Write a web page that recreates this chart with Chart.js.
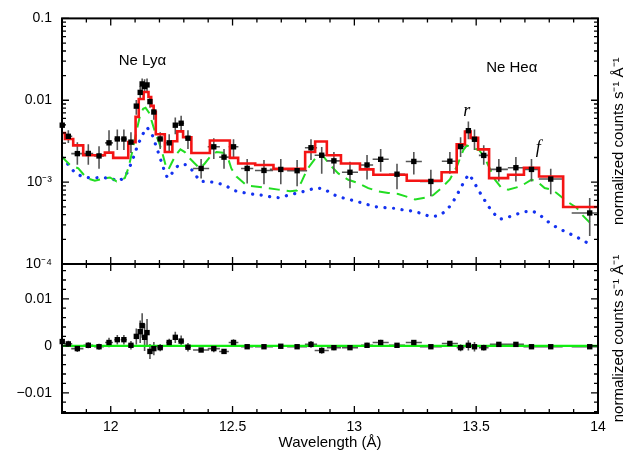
<!DOCTYPE html>
<html>
<head>
<meta charset="utf-8">
<script src="https://cdn.jsdelivr.net/npm/chart.js@4.4.1/dist/chart.umd.min.js"></script>
<style>
  html, body { margin: 0; padding: 0; background: #fff; }
  #wrap { position: relative; width: 641px; height: 455px; }
  #wrap canvas { position: absolute; left: 0; top: 0; }
</style>
</head>
<body>
<div id="wrap">
  <canvas id="specChart" width="641" height="455"></canvas>
  <canvas id="resChart" width="641" height="455"></canvas>
</div>
<script>
// measured spectrum (wavelength in Angstrom, normalized counts s^-1 A^-1)
const dataX = [11.801, 11.826, 11.863, 11.908, 11.952, 11.993, 12.027, 12.054, 12.083, 12.105,
  12.121, 12.129, 12.139, 12.149, 12.161, 12.177, 12.203, 12.240, 12.265, 12.289,
  12.317, 12.371, 12.423, 12.465, 12.504, 12.560, 12.629, 12.698, 12.765, 12.822,
  12.866, 12.916, 12.982, 13.052, 13.108, 13.175, 13.244, 13.314, 13.392, 13.436,
  13.468, 13.493, 13.531, 13.593, 13.663, 13.727, 13.806, 13.966];
const dataY = [0.00496, 0.00363, 0.00223, 0.00224, 0.00209, 0.00302, 0.00337, 0.00336, 0.00308, 0.00848,
  0.01248, 0.01583, 0.01474, 0.01540, 0.00963, 0.00719, 0.00337, 0.00302, 0.00496, 0.00524,
  0.00344, 0.00147, 0.00270, 0.00202, 0.00270, 0.00147, 0.00139, 0.00143, 0.00138, 0.00263,
  0.00213, 0.00182, 0.00132, 0.00162, 0.00190, 0.00125, 0.00179, 0.00102, 0.00180, 0.00272,
  0.00425, 0.00334, 0.00212, 0.00143, 0.00150, 0.00143, 0.00109, 0.00042];
const dataLo = [0.0044, 0.0030, 0.00163, 0.00163, 0.00146, 0.00221, 0.00247, 0.00247, 0.00227, 0.00667,
  0.0101, 0.0133, 0.01225, 0.0127, 0.0081, 0.0058, 0.00254, 0.00227, 0.00384, 0.00406,
  0.00254, 0.00111, 0.00192, 0.00146, 0.00192, 0.00096, 0.00094, 0.00094, 0.00089, 0.00187,
  0.00127, 0.00127, 0.00084, 0.00108, 0.00134, 0.00082, 0.00124, 0.00067, 0.00127, 0.00203,
  0.00334, 0.00247, 0.00163, 0.00102, 0.00102, 0.00102, 0.00071, 0.00022];
const dataHi = [0.0056, 0.0043, 0.00308, 0.00291, 0.00275, 0.00429, 0.0044, 0.0044, 0.00406, 0.0101,
  0.0149, 0.0185, 0.0180, 0.0185, 0.0113, 0.0086, 0.00406, 0.00384, 0.00614, 0.00649,
  0.00429, 0.00192, 0.00344, 0.00254, 0.00334, 0.00192, 0.00187, 0.00192, 0.00187, 0.00334,
  0.00268, 0.00233, 0.00177, 0.00215, 0.00254, 0.00168, 0.00233, 0.00142, 0.00233, 0.00353,
  0.0055, 0.0044, 0.00283, 0.00192, 0.00203, 0.00192, 0.00146, 0.00064];
// half bin width
const dataXErr = [0.008, 0.016, 0.025, 0.02, 0.02, 0.016, 0.012, 0.012, 0.012, 0.006,
  0.006, 0.006, 0.006, 0.006, 0.006, 0.006, 0.012, 0.012, 0.008, 0.012,
  0.012, 0.033, 0.025, 0.02, 0.02, 0.025, 0.037, 0.045, 0.041, 0.025,
  0.029, 0.029, 0.033, 0.025, 0.033, 0.033, 0.033, 0.045, 0.033, 0.016,
  0.012, 0.012, 0.02, 0.037, 0.033, 0.033, 0.049, 0.074];

// residuals (data - model)
const resY = [0.0009, 0.0004, -0.0006, 0.0001, -0.0002, 0.0007, 0.0013, 0.0013, 0.0001, 0.0020,
  0.0030, 0.0043, 0.0018, 0.0028, -0.0012, -0.0006, -0.0004, 0.0007, 0.0018, 0.0010,
  -0.0003, -0.0009, -0.0006, -0.0012, 0.0007, -0.0002, -0.0002, -0.0001, -0.0002, 0.0003,
  -0.0010, -0.0004, -0.0004, 0.0001, 0.0007, 0.0001, 0.0007, -0.0002, 0.0005, -0.0004,
  0.0001, -0.0002, -0.0004, 0.0003, 0.0003, -0.0002, -0.0002, -0.0002];
const resErr = [0.0006, 0.00065, 0.0007, 0.00064, 0.00065, 0.001, 0.001, 0.001, 0.0009, 0.0017,
  0.0024, 0.0026, 0.0029, 0.0029, 0.0016, 0.0014, 0.00076, 0.0008, 0.0012, 0.0012,
  0.0009, 0.0004, 0.00076, 0.00054, 0.0007, 0.0005, 0.00047, 0.0005, 0.0005, 0.00074,
  0.0007, 0.00053, 0.00047, 0.00054, 0.0006, 0.00043, 0.00055, 0.00038, 0.00053, 0.00075,
  0.0011, 0.001, 0.0006, 0.00045, 0.0005, 0.00045, 0.00038, 0.0002];

// folded model, histogram bins
const stepEdges = [11.800, 11.812, 11.846, 11.887, 11.976, 12.010, 12.072, 12.102, 12.115, 12.135,
  12.155, 12.166, 12.176, 12.185, 12.222, 12.253, 12.273, 12.297, 12.331, 12.407,
  12.489, 12.523, 12.593, 12.668, 12.798, 12.839, 12.887, 12.945, 13.023, 13.078,
  13.215, 13.358, 13.420, 13.454, 13.477, 13.508, 13.553, 13.631, 13.696, 13.758,
  13.857, 14.000];
const stepValues = [0.00398, 0.00337, 0.00281, 0.00213, 0.00229, 0.00198, 0.00308, 0.00626, 0.01038, 0.0126,
  0.01096, 0.00855, 0.00724, 0.00384, 0.00233, 0.00316, 0.00417, 0.00353, 0.00227, 0.00322,
  0.00198, 0.00169, 0.00162, 0.00145, 0.00233, 0.00314, 0.00213, 0.00169, 0.00143, 0.00123,
  0.00104, 0.00132, 0.00289, 0.00414, 0.00347, 0.00251, 0.00112, 0.00123, 0.0015, 0.00117,
  0.000497];

// model component (dashed)
const greenX = [11.800, 11.833, 11.867, 11.901, 11.935, 11.969, 11.997, 12.024, 12.058, 12.072,
  12.088, 12.106, 12.120, 12.133, 12.143, 12.157, 12.170, 12.184, 12.198, 12.211,
  12.225, 12.236, 12.249, 12.266, 12.286, 12.304, 12.325, 12.345, 12.366, 12.386,
  12.407, 12.434, 12.461, 12.482, 12.495, 12.516, 12.559, 12.593, 12.641, 12.688,
  12.736, 12.764, 12.784, 12.805, 12.839, 12.863, 12.880, 12.907, 12.934, 12.975,
  13.016, 13.057, 13.098, 13.139, 13.180, 13.221, 13.249, 13.290, 13.323, 13.358,
  13.392, 13.420, 13.447, 13.462, 13.488, 13.513, 13.536, 13.556, 13.577, 13.604,
  13.631, 13.666, 13.693, 13.727, 13.754, 13.781, 13.809, 13.830, 13.871, 13.912,
  13.939, 13.966];
const greenY = [0.00203, 0.00162, 0.00147, 0.00112, 0.00104, 0.00110, 0.00114, 0.00102, 0.00112, 0.00147,
  0.00233, 0.00425, 0.00643, 0.00787, 0.00809, 0.00705, 0.00535, 0.00387, 0.00308, 0.00233,
  0.00162, 0.00141, 0.00169, 0.00213, 0.00251, 0.00233, 0.00194, 0.00169, 0.00147, 0.00169,
  0.00203, 0.00233, 0.00229, 0.00194, 0.00147, 0.00117, 0.000905, 0.000887, 0.000846, 0.000810,
  0.000773, 0.000788, 0.00102, 0.00141, 0.00194, 0.00223, 0.00194, 0.00154, 0.00128, 0.00107,
  0.000972, 0.000846, 0.000773, 0.000738, 0.000717, 0.000655, 0.000614, 0.000646, 0.000692, 0.000851,
  0.00108, 0.00154, 0.00245, 0.00281, 0.00261, 0.00245, 0.00194, 0.00147, 0.00107, 0.000846,
  0.000810, 0.000863, 0.000930, 0.00107, 0.000999, 0.000846, 0.000810, 0.000738, 0.000586, 0.000487,
  0.000387, 0.000322];

// model component (dotted)
const blueX = [11.800, 11.827, 11.855, 11.889, 11.923, 11.957, 11.998, 12.032, 12.060, 12.087,
  12.108, 12.128, 12.149, 12.169, 12.190, 12.217, 12.233, 12.251, 12.278, 12.306,
  12.333, 12.367, 12.401, 12.442, 12.477, 12.511, 12.552, 12.593, 12.634, 12.662,
  12.695, 12.736, 12.770, 12.804, 12.843, 12.876, 12.907, 12.941, 12.979, 13.016,
  13.051, 13.087, 13.126, 13.164, 13.201, 13.235, 13.276, 13.310, 13.344, 13.372,
  13.399, 13.422, 13.440, 13.456, 13.471, 13.488, 13.508, 13.529, 13.549, 13.573,
  13.597, 13.627, 13.666, 13.700, 13.731, 13.761, 13.789, 13.830, 13.871, 13.905,
  13.939, 13.966];
const blueY = [0.00199, 0.00162, 0.00128, 0.00115, 0.00112, 0.00114, 0.00112, 0.00102, 0.00117, 0.00177,
  0.00268, 0.0037, 0.00466, 0.00387, 0.00256, 0.00147, 0.00112, 0.00128, 0.00162, 0.00164,
  0.00141, 0.00102, 0.00102, 0.000972, 0.000887, 0.000783, 0.000738, 0.000705, 0.000686, 0.000655,
  0.000642, 0.000705, 0.000738, 0.000788, 0.000851, 0.000828, 0.000717, 0.000655, 0.000614, 0.000575,
  0.000535, 0.000501, 0.000487, 0.000479, 0.000457, 0.000445, 0.000415, 0.00038, 0.000387, 0.000436,
  0.000535, 0.000705, 0.000887, 0.00109, 0.00125, 0.00104, 0.00081, 0.000642, 0.000511, 0.000413,
  0.000353, 0.000369, 0.000406, 0.000436, 0.000445, 0.000398, 0.000337, 0.00028, 0.000244, 0.000219,
  0.000194, 0.000174];

// residual model (zero line)
const zeroX = [11.8, 14.0];
const zeroY = [0, 0];

// axes
const xTickVals = [12, 12.5, 13, 13.5, 14];
const xTickLabels = ['12', '12.5', '13', '13.5', '14'];
const logTickVals = [1e-4, 1e-3, 0.01, 0.1];
const logTickLabels = ['10⁻⁴', '10⁻³', '0.01', '0.1'];
const resTickVals = [-0.01, 0, 0.01];
const resTickLabels = ['−0.01', '0', '0.01'];

// line labels
const noteText = ['Ne Lyα', 'Ne Heα', 'r', 'f'];
const noteX = [12.13, 13.646, 13.461, 13.755];
const noteY = [0.0307, 0.0249, 0.00739, 0.00256];

const FONT = "'Liberation Sans', Arial, Helvetica, sans-serif";
const yTitle = 'normalized counts s⁻¹ Å⁻¹';

// tick mark positions (minor + major) for the frame
const xMarks = [];
for (let k = 118; k <= 140; k++) {
  const v = k / 10;
  xMarks.push({ v, major: xTickVals.includes(v) });
}
const logMarks = [];
for (let e = -4; e <= -2; e++) {
  for (let m = 1; m <= 9; m++) logMarks.push({ v: m * Math.pow(10, e), major: m === 1 });
}
logMarks.push({ v: 0.1, major: true });
const resMarks = [];
for (let k = -7; k <= 8; k++) {
  resMarks.push({ v: k * 0.002, major: k % 5 === 0 });
}

function framePlugin(xm, ym, extra) {
  return {
    id: 'frame',
    afterDatasetsDraw(chart) {
      const { ctx, chartArea: a } = chart;
      const sx = chart.scales.x, sy = chart.scales.y;
      ctx.save();
      ctx.strokeStyle = '#000';
      ctx.lineWidth = 1.3;
      ctx.beginPath();
      xm.forEach(m => {
        const p = sx.getPixelForValue(m.v);
        const len = m.major ? 7 : 4;
        ctx.moveTo(p, a.top); ctx.lineTo(p, a.top + len);
        ctx.moveTo(p, a.bottom); ctx.lineTo(p, a.bottom - len);
      });
      ym.forEach(m => {
        const p = sy.getPixelForValue(m.v);
        if (p < a.top - 0.5 || p > a.bottom + 0.5) return;
        const len = m.major ? 7 : 4;
        ctx.moveTo(a.left, p); ctx.lineTo(a.left + len, p);
        ctx.moveTo(a.right, p); ctx.lineTo(a.right - len, p);
      });
      ctx.stroke();
      ctx.lineWidth = 2;
      ctx.strokeRect(a.left, a.top, a.right - a.left, a.bottom - a.top);

      // right side title, reading upwards
      ctx.fillStyle = '#000';
      ctx.font = '15px ' + FONT;
      ctx.textAlign = 'center';
      ctx.textBaseline = 'middle';
      ctx.translate(a.right + 21, (a.top + a.bottom) / 2);
      ctx.rotate(-Math.PI / 2);
      ctx.fillText(yTitle, 0, 0);
      ctx.restore();
      if (extra) extra(chart);
    }
  };
}

function drawNotes(chart) {
  const { ctx } = chart;
  const sx = chart.scales.x, sy = chart.scales.y;
  ctx.save();
  ctx.fillStyle = '#000';
  ctx.textAlign = 'center';
  ctx.textBaseline = 'middle';
  noteText.forEach((t, i) => {
    ctx.font = t.length > 1 ? '15px ' + FONT : 'italic 18px "Liberation Serif", "Times New Roman", serif';
    ctx.fillText(t, sx.getPixelForValue(noteX[i]), sy.getPixelForValue(noteY[i]));
  });
  ctx.restore();
}

function errorSegments(xs, ys, lo, hi, xe) {
  const pts = [];
  xs.forEach((x, i) => {
    pts.push({ x, y: lo[i] }, { x, y: hi[i] }, { x, y: null });
    pts.push({ x: x - xe[i], y: ys[i] }, { x: x + xe[i], y: ys[i] }, { x, y: null });
  });
  return pts;
}

const stepPts = stepValues.map((v, i) => ({ x: stepEdges[i], y: v }));
stepPts.push({ x: stepEdges[stepEdges.length - 1], y: stepValues[stepValues.length - 1] });

const tickFont = { family: FONT, size: 14 };

new Chart(document.getElementById('specChart'), {
  type: 'line',
  data: {
    datasets: [
      {
        label: 'data',
        data: dataX.map((x, i) => ({ x, y: dataY[i] })),
        showLine: false,
        pointStyle: 'rect',
        pointRadius: 3.8,
        pointBackgroundColor: '#000',
        pointBorderWidth: 0,
        clip: false,
        order: 1
      },
      {
        label: 'model',
        data: stepPts,
        stepped: true,
        borderColor: '#f41414',
        borderWidth: 2.6,
        pointRadius: 0,
        order: 2
      },
      {
        label: 'errors',
        data: errorSegments(dataX, dataY, dataLo, dataHi, dataXErr),
        borderColor: '#555',
        borderWidth: 1.6,
        pointRadius: 0,
        spanGaps: false,
        order: 3
      },
      {
        label: 'component 1',
        data: greenX.map((x, i) => ({ x, y: greenY[i] })),
        borderColor: '#22dd22',
        borderWidth: 2,
        borderDash: [11, 7],
        pointRadius: 0,
        order: 4
      },
      {
        label: 'component 2',
        data: blueX.map((x, i) => ({ x, y: blueY[i] })),
        borderColor: '#1432f0',
        borderWidth: 3.2,
        borderDash: [0.1, 8.5],
        borderCapStyle: 'round',
        pointRadius: 0,
        order: 5
      }
    ]
  },
  options: {
    responsive: false,
    animation: false,
    layout: { padding: { top: 14, right: 43, bottom: 191, left: 0 } },
    plugins: { legend: { display: false }, tooltip: { enabled: false } },
    scales: {
      x: { type: 'linear', min: 11.8, max: 14, display: false },
      y: {
        type: 'logarithmic',
        min: 1e-4,
        max: 0.1,
        afterFit: s => { s.width = 62; },
        afterBuildTicks: s => { s.ticks = logTickVals.map(v => ({ value: v })); },
        grid: { display: false, drawTicks: false },
        border: { display: false },
        ticks: {
          autoSkip: false,
          padding: 10,
          color: '#000',
          font: tickFont,
          callback: (v, i) => logTickLabels[i]
        }
      }
    }
  },
  plugins: [framePlugin(xMarks, logMarks, drawNotes)]
});

new Chart(document.getElementById('resChart'), {
  type: 'line',
  data: {
    datasets: [
      {
        label: 'residuals',
        data: dataX.map((x, i) => ({ x, y: resY[i] })),
        showLine: false,
        pointStyle: 'rect',
        pointRadius: 3.8,
        pointBackgroundColor: '#000',
        pointBorderWidth: 0,
        clip: false,
        order: 1
      },
      {
        label: 'residual errors',
        data: errorSegments(dataX, resY,
          resY.map((r, i) => r - resErr[i]), resY.map((r, i) => r + resErr[i]), dataXErr),
        borderColor: '#555',
        borderWidth: 1.6,
        pointRadius: 0,
        spanGaps: false,
        order: 3
      },
      {
        label: 'zero',
        data: zeroX.map((x, i) => ({ x, y: zeroY[i] })),
        borderColor: '#11ee11',
        borderWidth: 2.2,
        pointRadius: 0,
        order: 2
      }
    ]
  },
  options: {
    responsive: false,
    animation: false,
    layout: { padding: { top: 264, right: 43, bottom: 0, left: 0 } },
    plugins: { legend: { display: false }, tooltip: { enabled: false } },
    scales: {
      x: {
        type: 'linear',
        min: 11.8,
        max: 14,
        afterFit: s => { s.height = 42; },
        afterBuildTicks: s => { s.ticks = xTickVals.map(v => ({ value: v })); },
        grid: { display: false, drawTicks: false },
        border: { display: false },
        ticks: {
          autoSkip: false,
          maxRotation: 0,
          padding: 6,
          color: '#000',
          font: tickFont,
          callback: (v, i) => xTickLabels[i]
        },
        title: {
          display: true,
          text: 'Wavelength (Å)',
          color: '#000',
          font: { family: FONT, size: 15 },
          padding: { top: 0, bottom: 3 }
        }
      },
      y: {
        type: 'linear',
        min: -0.0143,
        max: 0.0174,
        afterFit: s => { s.width = 62; },
        afterBuildTicks: s => { s.ticks = resTickVals.map(v => ({ value: v })); },
        grid: { display: false, drawTicks: false },
        border: { display: false },
        ticks: {
          autoSkip: false,
          padding: 10,
          color: '#000',
          font: tickFont,
          callback: (v, i) => resTickLabels[i]
        }
      }
    }
  },
  plugins: [framePlugin(xMarks, resMarks, null)]
});
</script>
</body>
</html>
